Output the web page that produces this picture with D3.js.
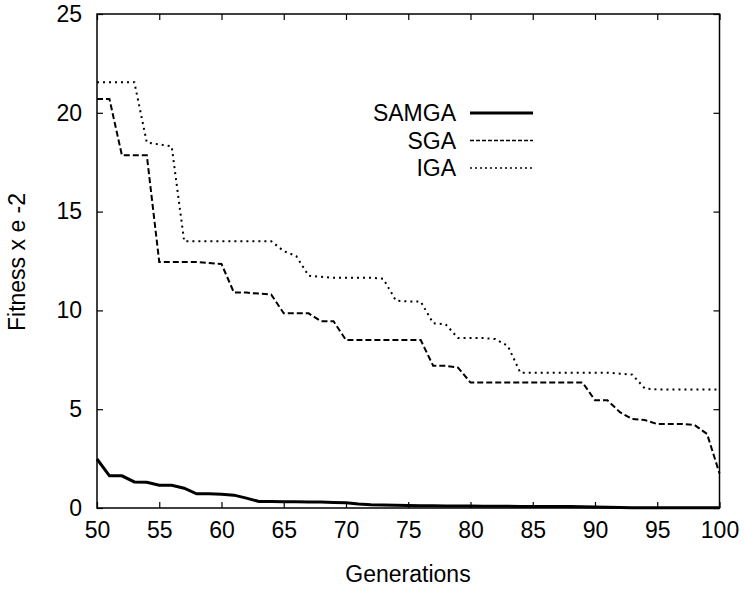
<!DOCTYPE html>
<html lang="en">
<head>
<meta charset="UTF-8">
<title>Fitness vs Generations</title>
<style>
  body { margin: 0; background: #fff; }
  text { font-family: "Liberation Sans", Arial, sans-serif; fill: #000; }
</style>
</head>
<body>
<div id="chart"></div>
<script src="https://cdnjs.cloudflare.com/ajax/libs/d3/7.8.2/d3.min.js"></script>
<script>
// generations 50..100
var generations = [50,51,52,53,54,55,56,57,58,59,60,61,62,63,64,65,66,67,68,69,70,
  71,72,73,74,75,76,77,78,79,80,81,82,83,84,85,86,87,88,89,90,
  91,92,93,94,95,96,97,98,99,100];

var samga = [2.48,1.63,1.63,1.32,1.3,1.15,1.15,1.0,0.72,0.72,0.7,
  0.65,0.5,0.33,0.33,0.32,0.31,0.3,0.3,0.28,0.27,
  0.2,0.16,0.15,0.14,0.13,0.12,0.11,0.1,0.1,0.1,
  0.09,0.09,0.09,0.08,0.08,0.08,0.07,0.07,0.06,0.05,
  0.04,0.02,0.01,0.01,0.01,0.01,0.01,0.01,0.01,0.01];

var sga = [20.7,20.7,17.85,17.85,17.85,12.45,12.45,12.45,12.45,12.4,12.35,
  10.9,10.9,10.85,10.8,9.85,9.85,9.85,9.45,9.45,8.5,
  8.5,8.5,8.5,8.5,8.5,8.5,7.2,7.2,7.1,6.35,
  6.35,6.35,6.35,6.35,6.35,6.35,6.35,6.35,6.35,5.45,
  5.45,4.85,4.5,4.45,4.25,4.25,4.25,4.2,3.75,1.75];

var iga = [21.55,21.55,21.55,21.55,18.5,18.4,18.3,13.5,13.5,13.5,13.5,
  13.5,13.5,13.5,13.5,13.0,12.75,11.75,11.7,11.65,11.65,
  11.65,11.65,11.6,10.5,10.45,10.45,9.35,9.3,8.6,8.6,
  8.6,8.55,8.2,6.85,6.85,6.85,6.85,6.85,6.85,6.85,
  6.85,6.8,6.75,6.05,6.0,6.0,6.0,6.0,6.0,6.0];

var xTicks = [50,55,60,65,70,75,80,85,90,95,100];
var yTicks = [0,5,10,15,20,25];

var width = 744, height = 592;
var margin = {top: 14, right: 24.5, bottom: 84, left: 97};
var w = width - margin.left - margin.right;
var h = height - margin.top - margin.bottom;

var svg = d3.select("#chart").append("svg")
  .attr("width", width)
  .attr("height", height);

var g = svg.append("g")
  .attr("transform", "translate(" + margin.left + "," + margin.top + ")");

var x = d3.scaleLinear().domain([50, 100]).range([0, w]);
var y = d3.scaleLinear().domain([0, 25]).range([h, 0]);

// axes with inward ticks, mirrored on top/right
function styleAxis(sel) {
  sel.select(".domain").remove();
  sel.selectAll(".tick line").attr("stroke", "#000").attr("stroke-width", 1.2);
  sel.selectAll("text").style("font-size", "23px");
}

g.append("g")
  .attr("transform", "translate(0," + h + ")")
  .call(d3.axisBottom(x).tickValues(xTicks).tickSizeInner(-6).tickPadding(14))
  .call(styleAxis)
  .selectAll("text").attr("dy", "0.71em");

g.append("g")
  .call(d3.axisTop(x).tickValues(xTicks).tickSizeInner(-6).tickFormat(""))
  .call(styleAxis);

g.append("g")
  .call(d3.axisLeft(y).tickValues(yTicks).tickSizeInner(-6).tickPadding(15))
  .call(styleAxis);

g.append("g")
  .attr("transform", "translate(" + w + ",0)")
  .call(d3.axisRight(y).tickValues(yTicks).tickSizeInner(-6).tickFormat(""))
  .call(styleAxis);

g.append("rect")
  .attr("width", w).attr("height", h)
  .attr("fill", "none").attr("stroke", "#000").attr("stroke-width", 1.5);

var series = [
  {name: "SAMGA", values: samga, width: 3, dash: null},
  {name: "SGA", values: sga, width: 2, dash: "6,3"},
  {name: "IGA", values: iga, width: 2, dash: "2,4"}
];

var line = d3.line()
  .x(function(d, i) { return x(generations[i]); })
  .y(function(d) { return y(d); });

series.forEach(function(s) {
  g.append("path")
    .datum(s.values)
    .attr("fill", "none")
    .attr("stroke", "#000")
    .attr("stroke-width", s.width)
    .attr("stroke-dasharray", s.dash)
    .attr("d", line);
});

// legend
var legend = svg.append("g");
series.forEach(function(s, i) {
  var ly = 113 + i * 27.5;
  legend.append("text")
    .attr("x", 456).attr("y", ly)
    .attr("dy", "0.35em")
    .attr("text-anchor", "end")
    .style("font-size", "23px")
    .text(s.name);
  legend.append("line")
    .attr("x1", 470).attr("x2", 533)
    .attr("y1", ly).attr("y2", ly)
    .attr("stroke", "#000")
    .attr("stroke-width", s.width === 3 ? 3 : 1.5)
    .attr("stroke-dasharray", s.dash ? (s.name === "SGA" ? "4,2" : "2,3") : null);
});

// axis titles
svg.append("text")
  .attr("x", 408).attr("y", 582)
  .attr("text-anchor", "middle")
  .style("font-size", "23px")
  .text("Generations");

svg.append("text")
  .attr("transform", "translate(25,262) rotate(-90)")
  .attr("text-anchor", "middle")
  .style("font-size", "23px")
  .text("Fitness x e -2");
</script>
</body>
</html>
